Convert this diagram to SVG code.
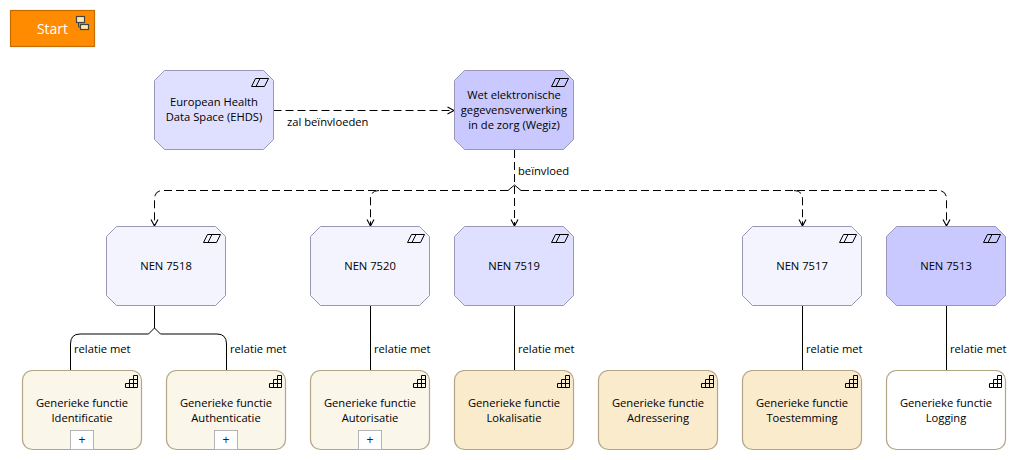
<svg xmlns="http://www.w3.org/2000/svg" width="1026" height="460" viewBox="0 0 1026 460">
<style>
text{font-family:"Open Sans","Noto Sans","Liberation Sans",sans-serif;font-size:11.2px;fill:#000;text-anchor:middle}
.lbl{text-anchor:start}
.o{stroke:#9a96b8;stroke-width:1}
.f{stroke:#b3a686;stroke-width:1.2}
.c{fill:none;stroke:#000;stroke-width:1}
.d{stroke-dasharray:8 4}
.ic{fill:none;stroke:#000;stroke-width:1}
.pb{fill:#fff;stroke:#b4b4b4;stroke-width:1}
.pl{font-size:12px;fill:#002060}
.l1{fill:#f4f4ff}.l2{fill:#dfdfff}.l3{fill:#c9c9ff}
.y1{fill:#fbf6ea}.y2{fill:#faebcd}.y3{fill:#fff}
</style>
<defs>
<marker id="a" markerWidth="12" markerHeight="12" refX="9" refY="5" orient="auto" markerUnits="userSpaceOnUse"><path d="M2.500 1.500L9 5L2.500 8.500" fill="none" stroke="#000" stroke-width="1.1"/></marker>
<polygon id="oct" points="10,0 109,0 119,10 119,69 109,79 10,79 0,69 0,10"/>
<rect id="fn" x="0" y="0" width="119" height="79" rx="10" ry="10"/>
<g id="pg"><path class="ic" d="M4 0H17L13 8H0ZM8.500 0L4.500 8"/></g>
<g id="st"><path class="ic" d="M0 12H12V0H8V4H4V8H0ZM4 8V12M8 4V12M4 8H12M8 4H12"/></g>
</defs>
<g id="connectors">
<path class="c d" marker-end="url(#a)" d="M273.500 110.500H454"/>
<path class="c d" marker-end="url(#a)" d="M514.500 150V226"/>
<path class="c d" marker-end="url(#a)" d="M508 190.500H163Q154.500 190.500 154.500 199V226"/>
<path class="c d" marker-end="url(#a)" d="M379 190.500Q370.500 190.500 370.500 199V226"/>
<path class="c d" marker-end="url(#a)" d="M521 190.500H938Q946.500 190.500 946.500 199V226"/>
<path class="c d" marker-end="url(#a)" d="M794 190.500Q802.500 190.500 802.500 199V226"/>
<path class="c" d="M508 190.500L514.500 185L521 190.500"/>
<path class="c" d="M154.500 305V328L148.500 334H80Q70.500 334 70.500 344V370"/>
<path class="c" d="M154.500 328L160.500 334H217Q226.500 334 226.500 344V370"/>
<path class="c" d="M370.500 305V370M514.500 305V370M802.500 305V370M946.500 305V370"/>
<text class="lbl" x="287" y="125.500">zal beïnvloeden</text>
<text class="lbl" x="518" y="175">beïnvloed</text>
<text class="lbl" x="74" y="353">relatie met</text>
<text class="lbl" x="230" y="353">relatie met</text>
<text class="lbl" x="374" y="353">relatie met</text>
<text class="lbl" x="518" y="353">relatie met</text>
<text class="lbl" x="806" y="353">relatie met</text>
<text class="lbl" x="950" y="353">relatie met</text>
</g>
<g id="start"><rect x="10.500" y="10.500" width="84" height="36" fill="#ff8c00" stroke="#c46c00" stroke-width="1.2"/>
<text x="52.500" y="33.500" style="font-size:14px;fill:#fff">Start</text>
<rect x="76.500" y="16.500" width="8" height="6" fill="#ffe9a8" stroke="#444" stroke-width="1.2"/>
<rect x="80.500" y="24.500" width="8" height="5" fill="#ffe9a8" stroke="#444" stroke-width="1.2"/>
<path d="M78.500 22.500V27H80.500" fill="none" stroke="#444"/></g>
<g id="ehds" transform="translate(154.500 70.500)"><use href="#oct" class="o l2"/><use href="#pg" x="97" y="8"/><text x="59.500" y="35.500">European Health</text><text x="59.500" y="50.500">Data Space (EHDS)</text></g>
<g id="wegiz" transform="translate(454.500 70.500)"><use href="#oct" class="o l3"/><use href="#pg" x="97" y="8"/><text x="59.500" y="28">Wet elektronische</text><text x="59.500" y="43">gegevensverwerking</text><text x="59.500" y="58">in de zorg (Wegiz)</text></g>
<g id="nen7518" transform="translate(106.500 226.500)"><use href="#oct" class="o l1"/><use href="#pg" x="97" y="8"/><text x="59.500" y="43">NEN 7518</text></g>
<g id="nen7520" transform="translate(310.500 226.500)"><use href="#oct" class="o l1"/><use href="#pg" x="97" y="8"/><text x="59.500" y="43">NEN 7520</text></g>
<g id="nen7519" transform="translate(454.500 226.500)"><use href="#oct" class="o l2"/><use href="#pg" x="97" y="8"/><text x="59.500" y="43">NEN 7519</text></g>
<g id="nen7517" transform="translate(742.500 226.500)"><use href="#oct" class="o l1"/><use href="#pg" x="97" y="8"/><text x="59.500" y="43">NEN 7517</text></g>
<g id="nen7513" transform="translate(886.500 226.500)"><use href="#oct" class="o l3"/><use href="#pg" x="97" y="8"/><text x="59.500" y="43">NEN 7513</text></g>
<g id="identificatie" transform="translate(22.500 370.500)"><use href="#fn" class="f y1"/><use href="#st" x="103" y="5"/><text x="59.500" y="36">Generieke functie</text><text x="59.500" y="51">Identificatie</text><rect class="pb" x="48" y="60" width="23" height="19"/><text class="pl" x="59.500" y="73.500">+</text></g>
<g id="authenticatie" transform="translate(166.500 370.500)"><use href="#fn" class="f y1"/><use href="#st" x="103" y="5"/><text x="59.500" y="36">Generieke functie</text><text x="59.500" y="51">Authenticatie</text><rect class="pb" x="48" y="60" width="23" height="19"/><text class="pl" x="59.500" y="73.500">+</text></g>
<g id="autorisatie" transform="translate(310.500 370.500)"><use href="#fn" class="f y1"/><use href="#st" x="103" y="5"/><text x="59.500" y="36">Generieke functie</text><text x="59.500" y="51">Autorisatie</text><rect class="pb" x="48" y="60" width="23" height="19"/><text class="pl" x="59.500" y="73.500">+</text></g>
<g id="lokalisatie" transform="translate(454.500 370.500)"><use href="#fn" class="f y2"/><use href="#st" x="103" y="5"/><text x="59.500" y="36">Generieke functie</text><text x="59.500" y="51">Lokalisatie</text></g>
<g id="adressering" transform="translate(598.500 370.500)"><use href="#fn" class="f y2"/><use href="#st" x="103" y="5"/><text x="59.500" y="36">Generieke functie</text><text x="59.500" y="51">Adressering</text></g>
<g id="toestemming" transform="translate(742.500 370.500)"><use href="#fn" class="f y2"/><use href="#st" x="103" y="5"/><text x="59.500" y="36">Generieke functie</text><text x="59.500" y="51">Toestemming</text></g>
<g id="logging" transform="translate(886.500 370.500)"><use href="#fn" class="f y3"/><use href="#st" x="103" y="5"/><text x="59.500" y="36">Generieke functie</text><text x="59.500" y="51">Logging</text></g>
</svg>
